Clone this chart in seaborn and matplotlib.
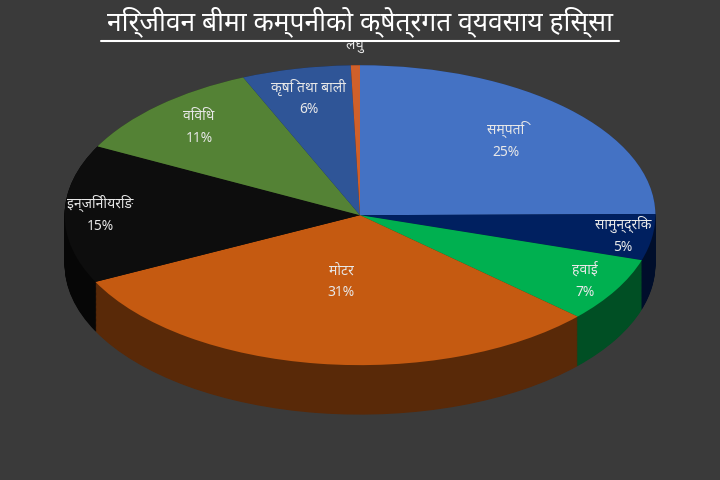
import matplotlib
matplotlib.use("Agg")
import matplotlib.pyplot as plt
import seaborn as sns
import numpy as np
from matplotlib.colors import to_rgb

sns.set_theme(style="dark")
plt.rcParams['font.family'] = ['Noto Sans', 'Noto Sans CJK SC', 'DejaVu Sans']

title = "निर्जीवन बीमा कम्पनीको क्षेत्रगत व्यवसाय हिस्सा"
categories = ["सम्पति", "सामुन्द्रिक", "हवाई", "मोटर", "इन्जिनीयरिङ", "विविध", "कृषि तथा बाली", "लघु"]
values = [25, 5, 7, 31, 15, 11, 6, 0.5]
pct_labels = ["25%", "5%", "7%", "31%", "15%", "11%", "6%", ""]
colors = ["#4472C4", "#002060", "#00B050", "#C55A11", "#0D0D0D", "#548235", "#2F5597", "#D0602A"]

fig = plt.figure(figsize=(7.2, 4.8), dpi=100)
fig.patch.set_facecolor("#3a3a3a")
ax = fig.add_axes([0.02, 0.0, 0.96, 0.9])
ax.set_facecolor("#3a3a3a")

dark = [tuple(c * 0.45 for c in to_rgb(col)) for col in colors]
for k in np.linspace(0.33, 0.0, 60):
    ax.pie(values, colors=dark, startangle=90, counterclock=False,
           center=(0, -k), radius=1.0,
           wedgeprops=dict(linewidth=0))
ax.pie(values, colors=colors, startangle=90, counterclock=False,
       radius=1.0, wedgeprops=dict(linewidth=0))
ax.set_aspect("auto")
ax.set_xlim(-1.17, 1.17)
ax.set_ylim(-1.766, 1.115)

total = sum(values)
cum = 0
label_r = [0.7, 0.9, 0.88, 0.45, 0.88, 0.8, 0.8, 1.13]
for cat, v, p, r in zip(categories, values, pct_labels, label_r):
    mid = np.deg2rad(90 - 360 * (cum + v / 2) / total)
    cum += v
    x, y = r * np.cos(mid), r * np.sin(mid)
    txt = cat + ("\n" + p if p else "")
    ax.text(x, y, txt, ha="center", va="center", color="#e8e8e8",
            fontsize=10, linespacing=1.6)

fig.text(0.5, 0.955, title, ha="center", va="center", color="white",
         fontsize=19, fontweight="bold")
fig.add_artist(plt.Line2D([0.14, 0.86], [0.915, 0.915], color="white", lw=1.5))
fig.savefig("out.png", dpi=100, facecolor=fig.get_facecolor())
